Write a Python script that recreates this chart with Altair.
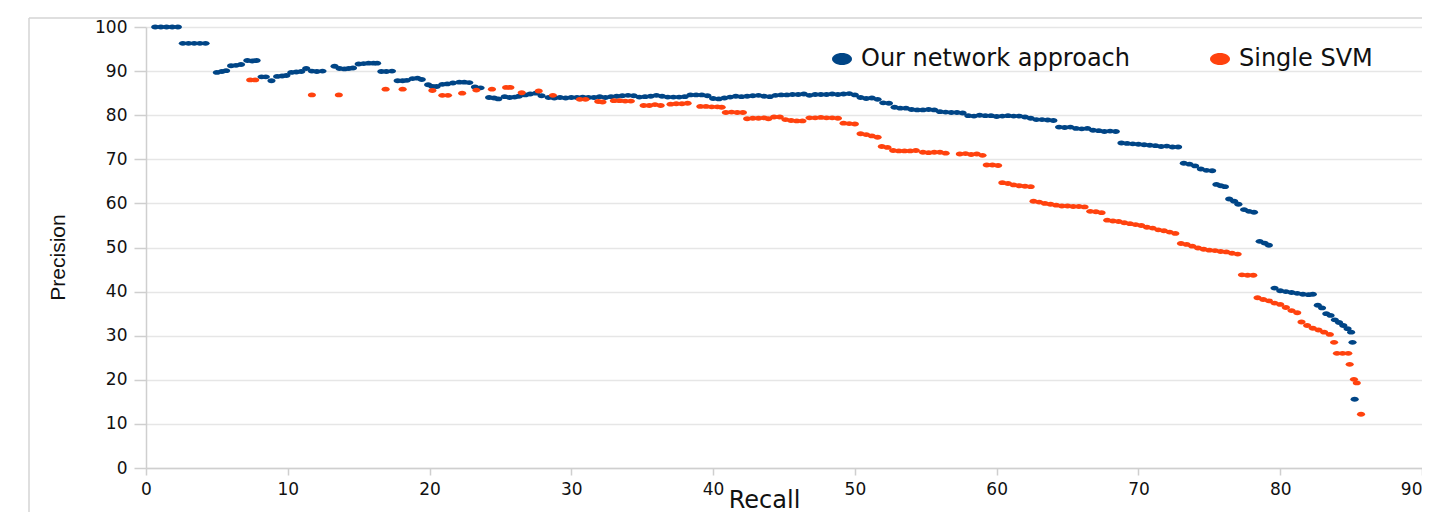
import altair as alt
import pandas as pd

series_names = ["Our network approach", "Single SVM"]
series_colors = ["#004586", "#ff420e"]
x_ticks = [0, 10, 20, 30, 40, 50, 60, 70, 80, 90]
y_ticks = [0, 10, 20, 30, 40, 50, 60, 70, 80, 90, 100]
x_title = "Recall"
y_title = "Precision"

# (recall, precision)
net_points = [
    (0.65, 100), (1.05, 100), (1.45, 100), (1.85, 100), (2.25, 100),
    (2.6, 96.3), (3.0, 96.3), (3.4, 96.3), (3.8, 96.3), (4.2, 96.3),
    (5.0, 89.7), (5.35, 89.9), (5.65, 90.1),
    (6.0, 91.2), (6.35, 91.3), (6.7, 91.5),
    (7.15, 92.4), (7.5, 92.3), (7.8, 92.4),
    (8.15, 88.7), (8.45, 88.7),
    (8.85, 87.8),
    (9.25, 88.8), (9.6, 88.9), (9.9, 89.0),
    (10.25, 89.7), (10.6, 89.8), (10.95, 89.9),
    (11.3, 90.6),
    (11.7, 90.0), (12.05, 89.9), (12.45, 90.0),
    (13.3, 91.1),
    (13.65, 90.6), (14.0, 90.5), (14.3, 90.6), (14.6, 90.7),
    (15.0, 91.6), (15.35, 91.7), (15.7, 91.8), (16.05, 91.8), (16.3, 91.8),
    (16.6, 89.9), (16.95, 89.9), (17.35, 90.0),
    (17.75, 87.8), (18.1, 87.8), (18.4, 87.9),
    (18.8, 88.3), (19.15, 88.4), (19.45, 88.1),
    (19.9, 86.9), (20.2, 86.5), (20.5, 86.5),
    (20.9, 87.0), (21.25, 87.1), (21.65, 87.3),
    (22.1, 87.5), (22.45, 87.5), (22.8, 87.4),
    (23.2, 86.4), (23.6, 86.2),
    (24.2, 84.0), (24.55, 83.9), (24.85, 83.7),
    (25.3, 84.2), (25.65, 84.0), (26.0, 84.1), (26.3, 84.3),
    (26.75, 84.6), (27.1, 84.8), (27.5, 85.0),
    (27.9, 84.4), (28.4, 84.0), (28.8, 83.9), (29.2, 84.0), (29.6, 83.9),
    (30.0, 84.0), (30.4, 84.0), (30.8, 84.1), (31.2, 84.0), (31.6, 84.0),
    (32.0, 84.2), (32.4, 84.0), (32.8, 84.2), (33.2, 84.3), (33.6, 84.4),
    (34.0, 84.5), (34.4, 84.4), (34.8, 84.1), (35.2, 84.2), (35.6, 84.3),
    (36.0, 84.5), (36.4, 84.3), (36.8, 84.1), (37.2, 84.1), (37.6, 84.1),
    (38.0, 84.2), (38.4, 84.6), (38.8, 84.6), (39.2, 84.6), (39.6, 84.4),
    (40.0, 83.8), (40.4, 83.7), (40.8, 83.9), (41.2, 84.1), (41.6, 84.3),
    (42.0, 84.2), (42.4, 84.3), (42.8, 84.4), (43.2, 84.5), (43.6, 84.3),
    (44.0, 84.2), (44.4, 84.5), (44.8, 84.6), (45.2, 84.6), (45.6, 84.7),
    (46.0, 84.7), (46.4, 84.8), (46.8, 84.5), (47.2, 84.7), (47.6, 84.7),
    (48.0, 84.7), (48.4, 84.8), (48.8, 84.7), (49.2, 84.8), (49.6, 84.9),
    (50.0, 84.6),
    (50.4, 84.0), (50.8, 83.8), (51.2, 83.9), (51.6, 83.6), (52.0, 82.8),
    (52.4, 82.7), (52.8, 81.8), (53.2, 81.6), (53.6, 81.6), (54.0, 81.3),
    (54.4, 81.2), (54.8, 81.2), (55.2, 81.3), (55.6, 81.2), (56.0, 80.8),
    (56.4, 80.7), (56.8, 80.6), (57.2, 80.6), (57.6, 80.5), (58.0, 79.9),
    (58.4, 79.8), (58.8, 80.0), (59.2, 79.9), (59.6, 79.9), (60.0, 79.7),
    (60.4, 79.8), (60.8, 79.9), (61.2, 79.8), (61.6, 79.8), (62.0, 79.6),
    (62.4, 79.3), (62.8, 79.0), (63.2, 79.0), (63.6, 78.9), (64.0, 78.8),
    (64.4, 77.3), (64.8, 77.2), (65.2, 77.3), (65.6, 77.0), (66.0, 76.9),
    (66.4, 77.0), (66.8, 76.6), (67.2, 76.5), (67.6, 76.3), (68.0, 76.4),
    (68.4, 76.3),
    (68.8, 73.7), (69.2, 73.6), (69.6, 73.5), (70.0, 73.4), (70.4, 73.3),
    (70.8, 73.2), (71.2, 73.1), (71.6, 72.9), (72.0, 73.0), (72.4, 72.8),
    (72.8, 72.8),
    (73.2, 69.1), (73.6, 68.9), (74.0, 68.5), (74.4, 67.8), (74.8, 67.5),
    (75.2, 67.4),
    (75.5, 64.3), (75.8, 64.0), (76.1, 63.8),
    (76.4, 61.0), (76.75, 60.5), (77.05, 59.8),
    (77.45, 58.6), (77.8, 58.2), (78.15, 58.0),
    (78.55, 51.4), (78.9, 51.0), (79.2, 50.5),
    (79.6, 40.8), (80.0, 40.2), (80.4, 40.0), (80.8, 39.8), (81.2, 39.6),
    (81.6, 39.4), (82.0, 39.3), (82.3, 39.4),
    (82.65, 36.9), (82.95, 36.3),
    (83.25, 35.0), (83.55, 34.6), (83.85, 33.6), (84.15, 33.0), (84.45, 32.3),
    (84.75, 31.6), (85.0, 30.8),
    (85.1, 28.5), (85.25, 15.6),
]

svm_points = [
    (7.35, 88.0), (7.7, 88.0),
    (11.7, 84.6), (13.6, 84.6),
    (16.9, 85.9), (18.1, 85.9),
    (20.2, 85.6), (20.9, 84.5), (21.3, 84.5),
    (22.3, 85.0), (23.3, 85.7), (24.4, 85.9),
    (25.4, 86.3), (25.7, 86.3), (26.5, 85.1), (27.7, 85.5), (28.7, 84.5),
    (30.6, 83.6), (31.0, 83.6), (31.9, 83.1), (32.2, 83.0),
    (33.0, 83.3), (33.4, 83.3), (33.8, 83.2), (34.2, 83.2),
    (35.1, 82.2), (35.5, 82.2), (35.9, 82.4), (36.3, 82.2),
    (37.0, 82.5), (37.4, 82.6), (37.8, 82.6), (38.2, 82.7),
    (39.1, 82.0), (39.5, 82.0), (39.9, 81.9), (40.3, 81.9), (40.6, 81.8),
    (40.9, 80.6), (41.3, 80.7), (41.7, 80.6), (42.1, 80.6),
    (42.4, 79.2), (42.8, 79.3), (43.2, 79.3), (43.6, 79.4), (43.9, 79.2),
    (44.3, 79.6), (44.7, 79.6), (45.1, 79.0), (45.5, 78.8), (45.9, 78.7),
    (46.3, 78.7),
    (46.8, 79.4), (47.2, 79.4), (47.6, 79.5), (48.0, 79.4), (48.4, 79.4),
    (48.8, 79.3),
    (49.2, 78.2), (49.6, 78.1), (50.0, 78.0),
    (50.4, 75.8), (50.8, 75.6), (51.2, 75.3), (51.6, 75.0),
    (51.9, 72.9), (52.3, 72.7),
    (52.7, 72.0), (53.1, 71.9), (53.5, 71.9), (53.9, 71.9), (54.3, 72.0),
    (54.8, 71.6), (55.2, 71.5), (55.6, 71.6), (56.0, 71.6), (56.4, 71.4),
    (57.4, 71.2), (57.8, 71.3), (58.2, 71.1), (58.6, 71.2), (59.0, 70.9),
    (59.3, 68.7), (59.7, 68.7), (60.1, 68.6),
    (60.4, 64.7), (60.8, 64.5), (61.2, 64.2), (61.6, 64.0), (62.0, 63.9),
    (62.4, 63.8),
    (62.6, 60.5), (63.0, 60.3), (63.4, 60.0), (63.8, 59.8), (64.2, 59.6),
    (64.6, 59.4), (65.0, 59.4), (65.4, 59.3), (65.8, 59.3), (66.2, 59.2),
    (66.6, 58.2), (67.0, 58.1), (67.4, 57.9),
    (67.8, 56.2), (68.2, 56.0), (68.6, 55.9), (69.0, 55.6), (69.4, 55.4),
    (69.8, 55.2), (70.2, 55.0), (70.6, 54.6), (71.0, 54.4), (71.4, 54.0),
    (71.8, 53.8), (72.2, 53.5), (72.6, 53.2),
    (73.0, 50.9), (73.4, 50.7), (73.8, 50.3), (74.2, 49.9), (74.6, 49.6),
    (75.0, 49.4), (75.4, 49.3), (75.8, 49.1), (76.2, 49.0), (76.6, 48.7),
    (77.0, 48.5),
    (77.3, 43.8), (77.7, 43.7), (78.1, 43.7),
    (78.4, 38.6), (78.8, 38.2), (79.2, 37.9), (79.6, 37.4), (80.0, 37.1),
    (80.4, 36.4), (80.8, 35.7), (81.2, 35.2),
    (81.5, 33.1), (81.9, 32.3), (82.3, 31.7), (82.7, 31.3), (83.1, 30.8),
    (83.5, 30.3),
    (83.8, 28.5),
    (84.0, 26.0), (84.4, 26.0), (84.8, 26.0),
    (84.9, 23.5),
    (85.2, 20.1), (85.4, 19.3),
    (85.7, 12.2),
]

rows = []
for name, pts in zip(series_names, [net_points, svm_points]):
    for r, p in pts:
        rows.append({"series": name, "recall": r, "precision": p, "idx": len(rows)})
df = pd.DataFrame(rows)

ELLIPSE = "M-1,0A1,0.6,0,1,1,1,0A1,0.6,0,1,1,-1,0Z"
FONT = "DejaVu Sans"
GRID = "#e6e6e6"
AXISC = "#cfcfcf"

points = alt.Chart(df).mark_point(
    filled=True, shape=ELLIPSE, size=66, opacity=1, strokeWidth=0
).encode(
    x=alt.X(
        "recall:Q",
        scale=alt.Scale(domain=[0, 90], nice=False, zero=False),
        axis=alt.Axis(
            values=x_ticks, grid=False, domainColor=AXISC, domainWidth=1.5,
            tickColor=AXISC, tickWidth=1.5, tickSize=7, labelPadding=6,
            labelFont=FONT, labelFontSize=17, labelColor="#111111",
            labelFlush=False, labelOverlap=False, labelBound=False,
            labelAlign={"condition": {"test": "datum.value >= 90", "value": "right"}, "value": "center"},
            title=x_title, titleFont=FONT, titleFontSize=24,
            titleFontWeight="normal", titleColor="#111111",
            titleX=618, titleY=39, titleBaseline="alphabetic",
            titleAlign="center",
        ),
    ),
    y=alt.Y(
        "precision:Q",
        scale=alt.Scale(domain=[0, 100], nice=False, zero=False),
        axis=alt.Axis(
            values=y_ticks, grid=True, gridColor=GRID, gridWidth=1.5,
            domainColor=AXISC, domainWidth=1.5, tickColor=AXISC,
            tickWidth=1.5, tickSize=12, labelPadding=7,
            labelFont=FONT, labelFontSize=17, labelColor="#111111",
            labelFlush=False, labelOverlap=False, labelBound=False,
            title=y_title, titleFont="Liberation Sans", titleFontSize=21,
            titleFontWeight="normal", titleColor="#111111",
            titleX=-88, titleY=230, titleAlign="center",
            titleBaseline="middle", titleAngle=270,
        ),
    ),
    color=alt.Color(
        "series:N",
        scale=alt.Scale(domain=series_names, range=series_colors),
        legend=alt.Legend(
            title=None, orient="none", direction="horizontal",
            legendX=684, legendY=20, padding=0, columnPadding=77,
            labelOffset=7, labelFont=FONT, labelFontSize=24,
            labelColor="#111111", symbolType=ELLIPSE, symbolSize=400,
            symbolStrokeWidth=0, symbolOpacity=1, labelLimit=0,
        ),
    ),
    order=alt.Order("idx:Q"),
)

frame_df = pd.DataFrame({"k": [0]})
frame_v = alt.Chart(frame_df).mark_rule(color="#d4d4d4", strokeWidth=1.5).encode(
    x=alt.value(-117), y=alt.value(-9), y2=alt.value(490)
)
frame_h = alt.Chart(frame_df).mark_rule(color="#d4d4d4", strokeWidth=1.5).encode(
    x=alt.value(-117), x2=alt.value(1276), y=alt.value(-9)
)

chart = alt.layer(frame_v, frame_h, points).properties(
    width=1276,
    height=441,
    autosize=alt.AutoSizeParams(type="none"),
    padding={"left": 138, "top": 19, "right": 0, "bottom": 44},
    background="white",
).configure_view(stroke=None)

chart.save("out.html", embed_options={"renderer": "svg", "actions": False})
